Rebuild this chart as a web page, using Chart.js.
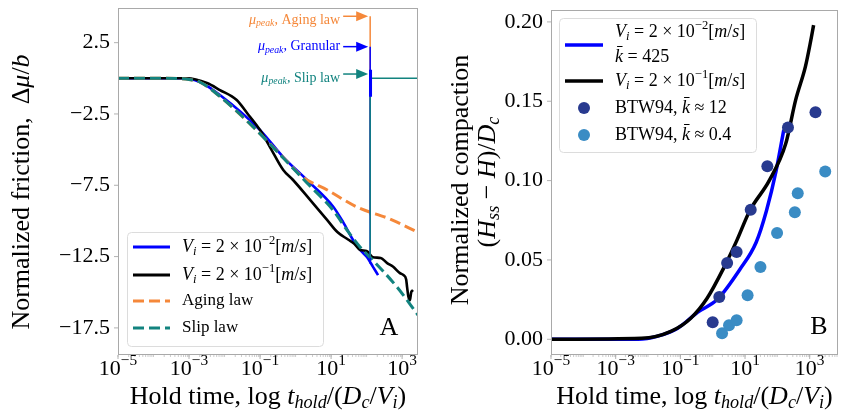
<!DOCTYPE html>
<html>
<head>
<meta charset="utf-8">
<script src="https://cdn.jsdelivr.net/npm/chart.js@4.4.0/dist/chart.umd.min.js"></script>
<style>
  html, body { margin: 0; background: #fff; }
  #wrap { position: relative; width: 844px; height: 420px; overflow: hidden; }
  canvas { position: absolute; top: 0; }
  #chartA { left: 0; }
  #chartB { left: 422px; }
</style>
</head>
<body>
<div id="wrap">
  <canvas id="chartA" width="422" height="420"></canvas>
  <canvas id="chartB" width="422" height="420"></canvas>
</div>
<script>
// ---- panel A: normalized friction during hold, t in units of Dc/Vi
const granT  = [1e-5, 6e-4, 2e-3, 7.4e-3, 0.1, 0.45, 2.1, 11.5, 22, 42, 66, 102, 150, 210];
const granMu = [0, 0, -0.26, -1.17, -3.63, -5.52, -7.13, -9.0, -10.1, -11.35, -12.04, -12.53, -13.2, -13.8];

const fastT  = [1e-5, 8.7e-4, 3.2e-3, 7.4e-3, 0.022, 0.043, 0.1, 0.19, 0.45, 0.85, 2.6, 7.8, 15, 30, 45, 66, 100, 150, 250, 380, 550, 870, 1100, 1300, 1380, 1500, 1660, 1800, 2040];
const fastMu = [0, 0, -0.33, -0.82, -1.52, -2.43, -3.63, -4.82, -6.43, -7.13, -8.54, -9.94, -10.78, -11.3, -11.6, -12.04, -12.1, -12.54, -12.6, -12.96, -13.2, -13.66, -13.8, -14.1, -14.64, -15.3, -15.56, -15.0, -14.85];

const agingT  = [1e-5, 1e-4, 5e-4, 1e-3, 2e-3, 7.4e-3, 0.063, 0.45, 1.6, 7.8, 54, 460, 2800];
const agingMu = [0, 0, -0.02, -0.08, -0.26, -1.27, -3.39, -5.55, -6.93, -7.83, -9.03, -9.87, -10.8];

const slipT  = [1e-5, 1e-4, 5e-4, 1e-3, 2e-3, 7.4e-3, 0.063, 0.45, 2.1, 11.5, 28, 66, 150, 720, 2800];
const slipMu = [0, 0, -0.02, -0.08, -0.26, -1.27, -3.39, -5.59, -7.34, -9.26, -10.64, -11.84, -12.75, -14.64, -16.6];

// reload peaks at the end of the hold
const peakT = 126;
const agingPeakMu = [-9.6, 4.35];
const granPeakMu = [-13.0, 2.22];
const granBlobT = 129;
const granBlobMu = [0.6, -1.3];
const slipPeakMu = [-12.6, 0.3, 0];
const slipSteadyT = 2800;

// ---- panel B: normalized compaction
const compSlowT = [1e-5, 5e-3, 0.02, 0.083, 0.34, 1.37, 6.9, 22, 46, 91, 158];
const compSlow  = [0, 0, 0.002, 0.007, 0.017, 0.025, 0.044, 0.061, 0.081, 0.106, 0.132];
const compFastT = [1e-5, 6.3e-3, 0.051, 0.21, 0.68, 2.2, 5.5, 14, 56, 180, 370, 740, 1050, 1320];
const compFast  = [0, 0.0006, 0.005, 0.0133, 0.026, 0.045, 0.062, 0.081, 0.1, 0.123, 0.151, 0.172, 0.187, 0.198];
const btw12T = [1.0, 1.6, 2.8, 5.5, 15, 49, 213, 1510];
const btw12  = [0.0108, 0.0266, 0.048, 0.055, 0.0816, 0.109, 0.1335, 0.143];
const btw04T = [1.95, 3.2, 5.5, 12, 30, 98, 347, 427, 3020];
const btw04  = [0.0038, 0.0089, 0.012, 0.0278, 0.0456, 0.067, 0.08, 0.092, 0.1057];

// ---- axes
const xTickExp = [-5, -3, -1, 1, 3];
const yTicksA = [2.5, -2.5, -7.5, -12.5, -17.5];
const yTicksB = [0, 0.05, 0.1, 0.15, 0.2];

const SERIF = '"Liberation Serif", "DejaVu Serif", serif';
const GRAY = "#a9a9a9";
const ORANGE = "#f5883a";
const TEAL = "#12837f";
const BLUE = "#0000ff";
const DARK = "#283a8f";
const LIGHT = "#3a8cc4";

const pts = (ts, vs) => ts.map((t, i) => ({ x: t, y: vs[i] }));

function curve(data, color, width, dash, order, smooth = true) {
  return {
    data,
    showLine: true,
    borderColor: color,
    backgroundColor: color,
    borderWidth: width,
    borderDash: dash || [],
    pointRadius: 0,
    fill: false,
    order,
    tension: 0,
    cubicInterpolationMode: smooth ? "monotone" : "default",
  };
}

// rich text: segs = [[text, flags]], flags: i italic, b subscript, p superscript
function rich(ctx, segs, x, y, size, align, color) {
  const parts = segs.map(([t, f = ""]) => {
    const small = f.includes("b") || f.includes("p");
    const s = small ? size * 0.7 : size;
    const font = `${f.includes("i") ? "italic " : ""}${s}px ${SERIF}`;
    ctx.font = font;
    const dy = f.includes("b") ? size * 0.24 : f.includes("p") ? -size * 0.36 : 0;
    return { t, font, dy, w: ctx.measureText(t).width };
  });
  const total = parts.reduce((s, p) => s + p.w, 0);
  let cx = align === "center" ? x - total / 2 : align === "right" ? x - total : x;
  ctx.fillStyle = color;
  ctx.textAlign = "left";
  ctx.textBaseline = "middle";
  parts.forEach((p) => {
    ctx.font = p.font;
    ctx.fillText(p.t, cx, y + p.dy);
    cx += p.w;
  });
  return total;
}

const xTitle = [["Hold time, log "], ["t", "i"], ["hold", "ib"], ["/("], ["D", "i"], ["c", "ib"], ["/"], ["V", "i"], ["i", "ib"], [")"]];
const vLabel = (e) => [["V", "i"], ["i", "ib"], [" = 2 × 10"], [e, "p"], ["["], ["m", "i"], ["/"], ["s", "i"], ["]"]];

function drawAxes(chart, yTicks, fmt) {
  const { ctx, chartArea: a, scales: { x, y } } = chart;
  ctx.save();
  ctx.strokeStyle = GRAY;
  ctx.lineWidth = 1;
  ctx.strokeRect(a.left + 0.5, a.top + 0.5, a.right - a.left - 1, a.bottom - a.top - 1);

  // minor ticks
  ctx.lineWidth = 0.6;
  for (let e = -6; e <= 4; e++) {
    for (let k = 1; k <= 9; k++) {
      const v = k * 10 ** e;
      const px = x.getPixelForValue(v);
      if (px < a.left || px > a.right) continue;
      ctx.beginPath();
      ctx.moveTo(px, a.bottom);
      ctx.lineTo(px, a.bottom + 2);
      ctx.stroke();
    }
  }
  // major x ticks + labels
  ctx.lineWidth = 0.9;
  xTickExp.forEach((e) => {
    const px = x.getPixelForValue(10 ** e);
    ctx.beginPath();
    ctx.moveTo(px, a.bottom);
    ctx.lineTo(px, a.bottom + 4);
    ctx.stroke();
    rich(ctx, [["10"], [String(e).replace("-", "\u2212"), "p"]], px, a.bottom + 14, 22, "center", "#000");
  });
  // y ticks + labels
  yTicks.forEach((v) => {
    const py = y.getPixelForValue(v);
    ctx.strokeStyle = GRAY;
    ctx.beginPath();
    ctx.moveTo(a.left - 4, py);
    ctx.lineTo(a.left, py);
    ctx.stroke();
    rich(ctx, [[fmt(v)]], a.left - 8, py, 22, "right", "#000");
  });
  rich(ctx, xTitle, (a.left + a.right) / 2, a.bottom + 42, 26, "center", "#000");
  ctx.restore();
}

function legendBox(ctx, x0, y0, w, h) {
  ctx.save();
  ctx.fillStyle = "rgba(255,255,255,0.85)";
  ctx.strokeStyle = "#dcdcdc";
  ctx.lineWidth = 1;
  ctx.beginPath();
  ctx.roundRect(x0 + 0.5, y0 + 0.5, w, h, 4);
  ctx.fill();
  ctx.stroke();
  ctx.restore();
}

function sample(ctx, x0, x1, yy, color, width, dash) {
  ctx.save();
  ctx.strokeStyle = color;
  ctx.lineWidth = width;
  ctx.setLineDash(dash || []);
  ctx.beginPath();
  ctx.moveTo(x0, yy);
  ctx.lineTo(x1, yy);
  ctx.stroke();
  ctx.restore();
}

function arrow(ctx, x0, x1, yy, color) {
  ctx.save();
  ctx.strokeStyle = color;
  ctx.fillStyle = color;
  ctx.lineWidth = 1.5;
  ctx.beginPath();
  ctx.moveTo(x0, yy);
  ctx.lineTo(x1 - 10, yy);
  ctx.stroke();
  ctx.beginPath();
  ctx.moveTo(x1, yy);
  ctx.lineTo(x1 - 12, yy - 5);
  ctx.lineTo(x1 - 12, yy + 5);
  ctx.closePath();
  ctx.fill();
  ctx.restore();
}

const fmtA = (v) => v.toFixed(1).replace("-", "\u2212");
const fmtB = (v) => v.toFixed(2);

const decoA = {
  id: "decoA",
  afterDraw(chart) {
    const { ctx, scales: { x, y } } = chart;
    drawAxes(chart, yTicksA, fmtA);
    ctx.save();
    ctx.translate(22, 192);
    ctx.rotate(-Math.PI / 2);
    rich(ctx, [["Normalized friction,  "], ["Δ"], ["μ", "i"], ["/"], ["b", "i"]], 0, 0, 26, "center", "#000");
    ctx.restore();

    // peak annotations
    const tip = x.getPixelForValue(peakT) - 2;
    const notes = [
      [agingPeakMu[1], "Aging law", ORANGE, 4],
      [granPeakMu[1], "Granular", BLUE, 0],
      [slipPeakMu[1], "Slip law", TEAL, 4],
    ];
    notes.forEach(([v, name, color, dy]) => {
      const py = y.getPixelForValue(v);
      arrow(ctx, tip - 25, tip, py, color);
      rich(ctx, [["μ", "i"], ["peak", "ib"], [", " + name]], tip - 28, py + dy, 14, "right", color);
    });

    // legend
    legendBox(ctx, 127, 232, 196, 114);
    const rows = [
      [247, BLUE, [], vLabel("\u22122"), 18],
      [275, "#000", [], vLabel("\u22121"), 18],
      [301, ORANGE, [11, 5], [["Aging law"]], 17],
      [328, TEAL, [11, 5], [["Slip law"]], 17],
    ];
    rows.forEach(([yy, color, dash, label, size]) => {
      sample(ctx, 133, 170, yy, color, 3, dash);
      rich(ctx, label, 182, yy, size, "left", "#000");
    });
    rich(ctx, [["A"]], 389, 328, 26, "center", "#000");
  },
};

const decoB = {
  id: "decoB",
  afterDraw(chart) {
    const { ctx } = chart;
    drawAxes(chart, yTicksB, fmtB);
    ctx.save();
    ctx.translate(39, 180);
    ctx.rotate(-Math.PI / 2);
    rich(ctx, [["Normalized compaction"]], 0, 0, 26, "center", "#000");
    ctx.restore();
    ctx.save();
    ctx.translate(66, 182);
    ctx.rotate(-Math.PI / 2);
    rich(ctx, [["("], ["H", "i"], ["ss", "ib"], [" − "], ["H", "i"], [")/"], ["D", "i"], ["c", "ib"]], 0, 0, 26, "center", "#000");
    ctx.restore();

    legendBox(ctx, 137, 18, 197, 134);
    sample(ctx, 143, 181, 45, BLUE, 3.5);
    rich(ctx, vLabel("\u22122"), 193, 32, 18, "left", "#000");
    rich(ctx, [["k\u0304", "i"], [" = 425"]], 193, 57, 18, "left", "#000");
    sample(ctx, 143, 181, 81, "#000", 3.5);
    rich(ctx, vLabel("\u22121"), 193, 81, 18, "left", "#000");
    [[108, DARK, "12"], [135, LIGHT, "0.4"]].forEach(([yy, color, k]) => {
      ctx.fillStyle = color;
      ctx.beginPath();
      ctx.arc(162, yy, 6, 0, Math.PI * 2);
      ctx.fill();
      rich(ctx, [["BTW94, "], ["k\u0304", "i"], [" ≈ " + k]], 193, yy, 18, "left", "#000");
    });
    rich(ctx, [["B"]], 397, 327, 26, "center", "#000");
  },
};

function baseOptions(xmax, ymin, ymax, padding) {
  return {
    responsive: false,
    animation: false,
    events: [],
    layout: { padding },
    plugins: { legend: { display: false }, tooltip: { enabled: false } },
    scales: {
      x: { type: "logarithmic", min: 1e-5, max: xmax, display: false },
      y: { type: "linear", min: ymin, max: ymax, display: false },
    },
  };
}

new Chart(document.getElementById("chartA"), {
  type: "scatter",
  data: {
    datasets: [
      curve(pts([peakT, peakT], agingPeakMu), ORANGE, 1.5, null, 9, false),
      curve(pts(granT, granMu), BLUE, 2.6, null, 8),
      curve(pts(fastT, fastMu), "#000", 2.6, null, 7),
      curve(pts(agingT, agingMu), ORANGE, 3, [11, 5], 6),
      curve(pts(slipT, slipMu), TEAL, 3, [11, 5], 5),
      curve(pts([peakT, peakT], granPeakMu), BLUE, 1.5, null, 4, false),
      curve(pts([peakT, peakT, peakT, slipSteadyT], slipPeakMu.concat([slipPeakMu[2]])), TEAL, 1.5, null, 3, false),
      curve(pts([granBlobT, granBlobT], granBlobMu), BLUE, 3, null, 2, false),
    ],
  },
  options: baseOptions(2800, -19.4, 4.93, { left: 118, right: 4, top: 8, bottom: 65 }),
  plugins: [decoA],
});

new Chart(document.getElementById("chartB"), {
  type: "scatter",
  data: {
    datasets: [
      curve(pts(compSlowT, compSlow), BLUE, 3.5, null, 5),
      curve(pts(compFastT, compFast), "#000", 3.5, null, 4),
      { data: pts(btw12T, btw12), pointRadius: 6, pointBackgroundColor: DARK, pointBorderWidth: 0, order: 2 },
      { data: pts(btw04T, btw04), pointRadius: 6, pointBackgroundColor: LIGHT, pointBorderWidth: 0, order: 1 },
    ],
  },
  options: baseOptions(7500, -0.0099, 0.2075, { left: 129, right: 1, top: 10, bottom: 65 }),
  plugins: [decoB],
});
</script>
</body>
</html>
